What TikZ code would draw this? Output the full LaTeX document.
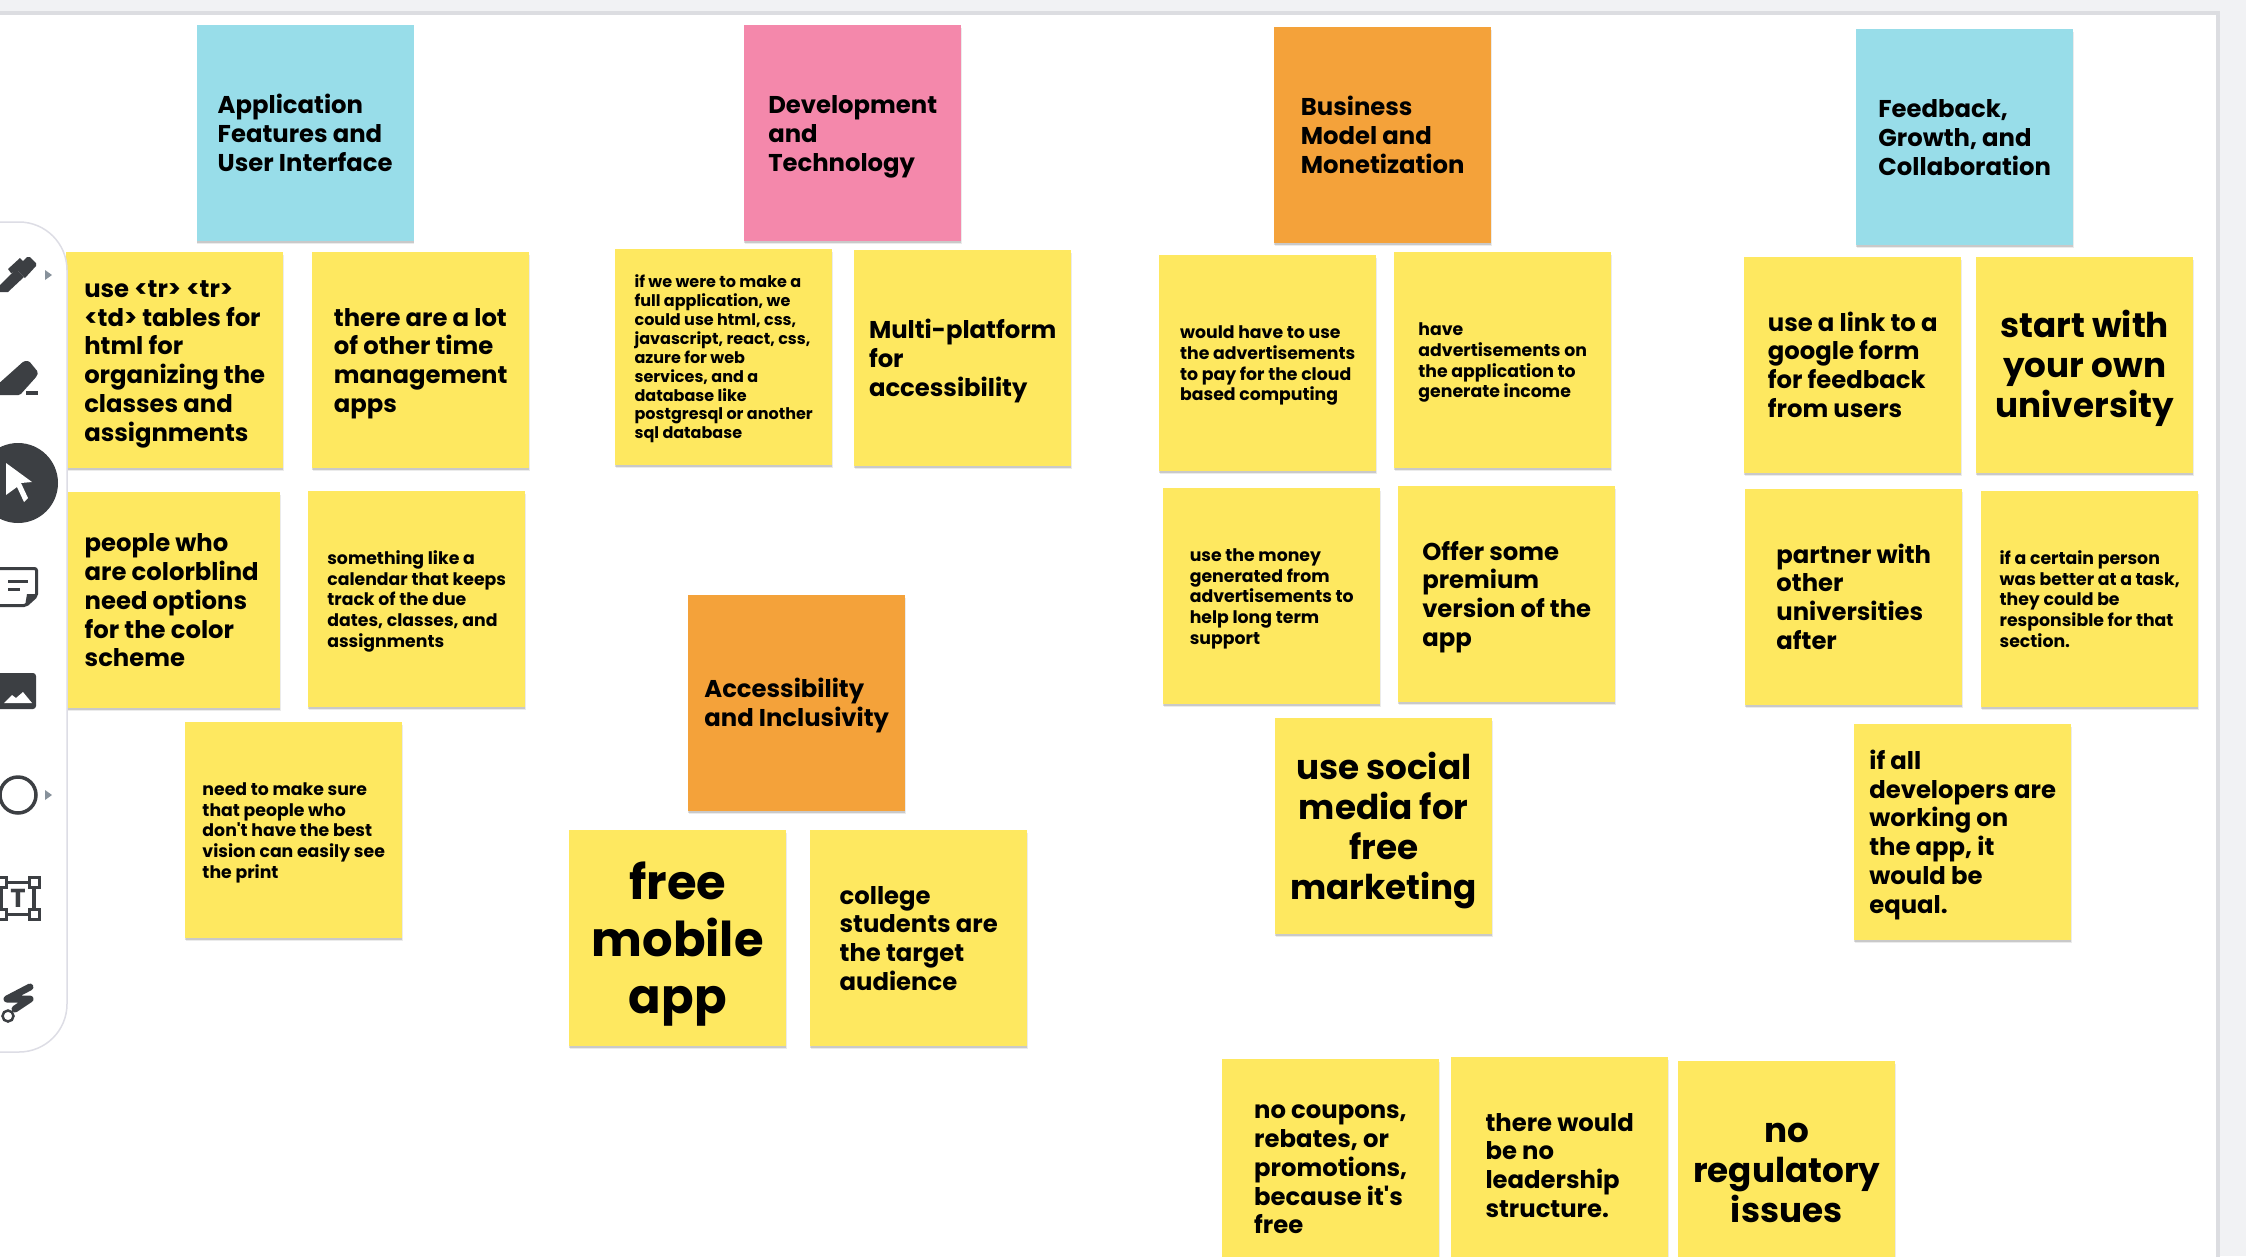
\documentclass[tikz,border=0pt]{standalone}
\usepackage{fontspec}
\setmainfont{Poppins}
\usetikzlibrary{shadows}
\definecolor{pagegray}{HTML}{F1F2F4}
\definecolor{edgegray}{HTML}{DCDDE1}
\definecolor{barline}{HTML}{DDDDE5}
\definecolor{iconcol}{HTML}{3C3F43}
\definecolor{tipcol}{HTML}{87919B}
\definecolor{noteyellow}{HTML}{FEE860}
\definecolor{noteblue}{HTML}{98DDE9}
\definecolor{notepink}{HTML}{F488AB}
\definecolor{noteorange}{HTML}{F4A23A}
\newcommand{\nt}[1]{\rule{0pt}{\dimexpr.7\baselineskip+.28em\relax}#1\strut}
\tikzset{
    note/.style={anchor=north west, minimum width=217pt, minimum height=216pt, inner sep=0pt, align=left, fill=noteyellow,
        general shadow={shadow xshift=0pt, shadow yshift=-1.5pt, opacity=0.14, fill=black},
        general shadow={shadow xshift=0.5pt, shadow yshift=-3pt, opacity=0.08, fill=black}},
    xs/.style={font=\fontsize{16}{18.9}\selectfont\bfseries},
    sm/.style={font=\fontsize{17.3}{20.7}\selectfont\bfseries},
    md/.style={font=\fontsize{24.3}{28.8}\selectfont\bfseries},
    lg/.style={font=\fontsize{34.2}{40}\selectfont\bfseries, align=center},
    xl/.style={font=\fontsize{48}{57.3}\selectfont\bfseries, align=center},
    tip/.style={fill=tipcol},
}
\begin{document}
\begin{tikzpicture}[x=1pt, y=-1pt]
    \clip (0,0) rectangle (2246,1256);
    \fill[pagegray] (0,0) rectangle (2246,1256);
    \fill[edgegray] (-5,11) rectangle (2220,1270);
    \fill[white] (-5,15) rectangle (2216,1270);

    % headers
    \node[note, md, fill=noteblue] (app) at (196.5,25) {\nt{Application\\Features and\\User Interface}};
    \node[note, md, fill=notepink] (dev) at (744,25) {\nt{Development\\and\\Technology}};
    \node[note, md, fill=noteorange] (biz) at (1274,27) {\nt{Business\\Model and\\Monetization}};
    \node[note, md, fill=noteblue] (feed) at (1856,29) {\nt{Feedback,\\Growth, and\\Collaboration}};
    \node[note, md, fill=noteorange] (access) at (688,595) {\nt{Accessibility\\and Inclusivity}};

    % first column
    \node[note, md] (app1) at (66,252) {\nt{use <tr> <tr>\\<td> tables for\\html for\\organizing the\\classes and\\assignments}};
    \node[note, md] (app2) at (312,252) {\nt{there are a lot\\of other time\\management\\apps}};
    \node[note, md] (app3) at (63,492) {\nt{people who\\are colorblind\\need options\\for the color\\scheme}};
    \node[note, sm] (app4) at (308,491) {\nt{something like a\\calendar that keeps\\track of the due\\dates, classes, and\\assignments}};
    \node[note, sm] (app5) at (185,722) {\nt{need to make sure\\that people who\\don\textquotesingle t have the best\\vision can easily see\\the print}};

    % second column
    \node[note, xs] (dev1) at (615,249) {\nt{if we were to make a\\full application, we\\could use html, css,\\javascript, react, css,\\azure for web\\services, and a\\database like\\postgresql or another\\sql database}};
    \node[note, md] (dev2) at (854,250) {\nt{Multi-platform\\for\\accessibility}};
    \node[note, xl] (access1) at (569,830) {\nt{free\\mobile\\app}};
    \node[note, md] (access2) at (810,830) {\nt{college\\students are\\the target\\audience}};

    % third column
    \node[note, sm] (biz1) at (1159,255) {\nt{would have to use\\the advertisements\\to pay for the cloud\\based computing}};
    \node[note, sm] (biz2) at (1394,252) {\nt{have\\advertisements on\\the application to\\generate income}};
    \node[note, sm] (biz3) at (1163,488) {\nt{use the money\\generated from\\advertisements to\\help long term\\support}};
    \node[note, md] (biz4) at (1398,486) {\nt{Offer some\\premium\\version of the\\app}};
    \node[note, lg] (biz5) at (1275,718) {\nt{use social\\media for\\free\\marketing}};

    % fourth column
    \node[note, md] (feed1) at (1744,257) {\nt{use a link to a\\google form\\for feedback\\from users}};
    \node[note, lg] (feed2) at (1976,257) {\nt{start with\\your own\\university}};
    \node[note, md] (feed3) at (1745,489) {\nt{partner with\\other\\universities\\after}};
    \node[note, sm] (feed4) at (1981,491) {\nt{if a certain person\\was better at a task,\\they could be\\responsible for that\\section.}};
    \node[note, md] (feed5) at (1854,724) {\nt{if all\\developers are\\working on\\the app, it\\would be\\equal.}};

    % bottom row
    \node[note, md] (free1) at (1222,1059) {\nt{no coupons,\\rebates, or\\promotions,\\because it\textquotesingle s\\free}};
    \node[note, md] (free2) at (1451,1057) {\nt{there would\\be no\\leadership\\structure.}};
    \node[note, lg] (free3) at (1678,1061) {\nt{no\\regulatory\\issues}};

    % toolbar
    \draw[barline, fill=white, line width=1.5pt, rounded corners=48pt] (-60,222) -- (67,222) -- (67,1052) -- (-60,1052);

    % pen
    \fill[iconcol] (0,285) -- (16,269) -- (24,277) -- (8,292) -- (0,292) -- cycle;
    \fill[iconcol] (8,269) -- (20,258) -- (23,261) -- (27,257) -- (30,257) -- (36,263) -- (36,266) -- (25,278) -- (18,271) -- (11,273) -- cycle;
    \fill[tip] (45,270) -- (52,275) -- (45,280) -- cycle;
    % eraser
    \fill[iconcol, rounded corners=1.5pt] (-4,386) -- (24,361) -- (29,361) -- (38,372) -- (37,376) -- (20,395) -- (-4,395) -- cycle;
    \fill[iconcol] (26,391) rectangle (38,395);
    % cursor
    \fill[iconcol] (18,483) circle (40);
    \fill[white] (6,463) -- (32,482) -- (21,483) -- (28,498) -- (24,502) -- (17,487) -- (6,495) -- cycle;
    % sticky note
    \draw[iconcol, line width=3pt, rounded corners=2pt] (-4,568.5) -- (36.5,568.5) -- (36.5,596) -- (26,605.5) -- (-4,605.5) -- cycle;
    \fill[iconcol] (36.5,594) -- (27,594) -- (25,606) -- cycle;
    \draw[iconcol, line width=3pt] (8,581) -- (28,581) (8,589) -- (20,589);
    % picture
    \fill[iconcol, rounded corners=3pt] (-4,673) rectangle (36,709);
    \fill[white] (4,703) -- (12,695) -- (16,698) -- (23,692) -- (32,703) -- cycle;
    % circle
    \draw[iconcol, line width=3.5pt] (18,795) circle (18);
    \fill[tip] (45,790) -- (52,795) -- (45,800) -- cycle;
    % text box
    \draw[iconcol, line width=3.5pt] (1,882.5) rectangle (34,914.5);
    \foreach \cx/\cy in {1/882.5, 34/882.5, 1/914.5, 34/914.5}
        \draw[iconcol, line width=3pt, fill=white] (\cx-5,\cy-5) rectangle (\cx+5,\cy+5);
    \node[iconcol, font=\fontsize{26}{26}\selectfont\bfseries, inner sep=0pt] (tbox) at (18,898.5) {T};
    % pointer tool
    \draw[iconcol, line width=7pt, line cap=round, line join=round] (30,987) -- (7,999) -- (30,999) -- (15,1009);
    \draw[iconcol, line width=2.5pt, fill=white] (8,1016) circle (5.5);
\end{tikzpicture}
\end{document}
